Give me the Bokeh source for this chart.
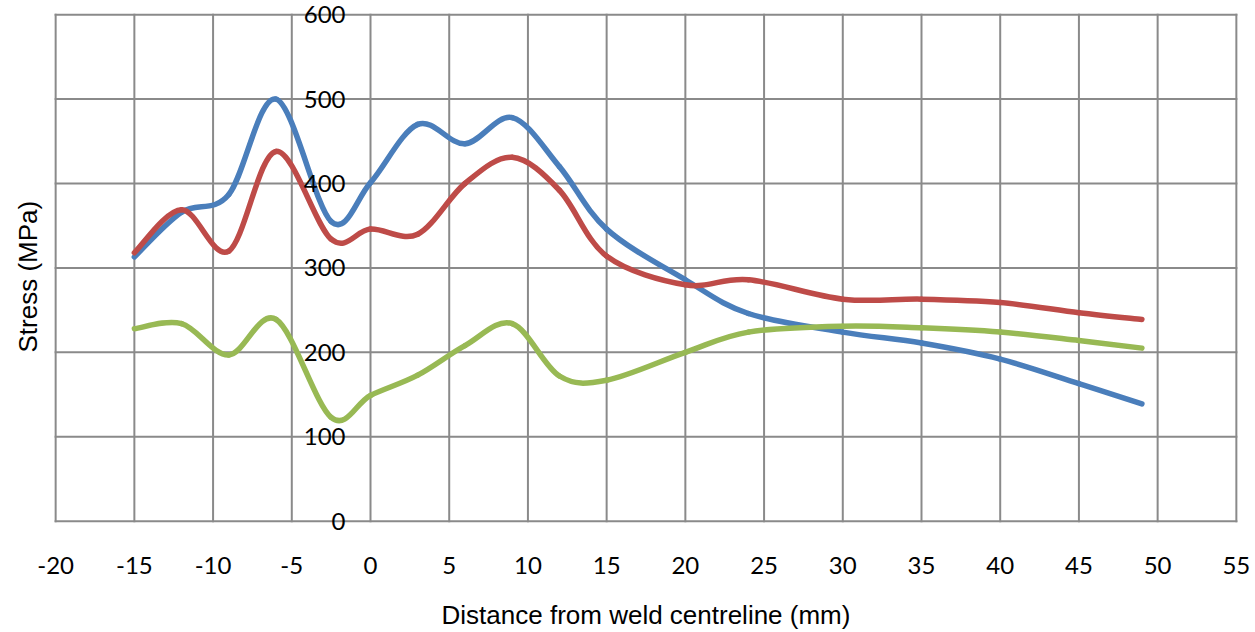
import numpy as np
from bokeh.plotting import figure
from bokeh.models import FixedTicker, ColumnDataSource, Title
from bokeh.embed import file_html
from bokeh.resources import INLINE

# ---- data ----
distance = [-15, -12, -9, -6, -2.5, 0, 3, 6, 9, 12, 15, 20, 24, 30, 35, 40, 45, 49]
stress_blue = [313, 366, 387, 500, 355, 401, 470, 447, 478, 420, 346, 286, 246, 224, 211, 192, 163, 139]
stress_red = [318, 369, 320, 438, 334, 346, 340, 400, 431, 392, 314, 280, 286, 263, 263, 259, 247, 239]
stress_green = [228, 234, 197, 239, 123, 149, 173, 208, 234, 172, 167, 200, 224, 231, 229, 224, 214, 205]

x_ticks = [-20, -15, -10, -5, 0, 5, 10, 15, 20, 25, 30, 35, 40, 45, 50, 55]
x_tick_labels = ["-20", "-15", "-10", "-5", "0", "5", "10", "15", "20", "25", "30", "35", "40", "45", "50", "55"]
y_ticks = [0, 100, 200, 300, 400, 500, 600]
y_tick_labels = ["0", "100", "200", "300", "400", "500", "600"]
x_title = "Distance from weld centreline (mm)"
y_title = "Stress (MPa)"

colors = ["#4A7EBB", "#BE4B48", "#98B954"]
GRID = "#8a8a8a"

# small padding around the 0..600 / -20..55 box so that the
# axis labels at the ends are not clipped by the frame
p = figure(width=1255, height=632, x_range=(-20.2, 55.2), y_range=(-11, 612),
           output_backend="svg", toolbar_location=None,
           min_border_left=52, min_border_right=16, min_border_top=4,
           min_border_bottom=100)
p.background_fill_color = "white"
p.border_fill_color = "white"
p.outline_line_color = None
p.grid.visible = False

# grid box drawn from the tick arrays
xmin, xmax = x_ticks[0], x_ticks[-1]
ymin, ymax = y_ticks[0], y_ticks[-1]
p.segment(x0=x_ticks, y0=[ymin] * len(x_ticks), x1=x_ticks, y1=[ymax] * len(x_ticks),
          line_color=GRID, line_width=2, line_cap="square")
p.segment(x0=[xmin] * len(y_ticks), y0=y_ticks, x1=[xmax] * len(y_ticks), y1=y_ticks,
          line_color=GRID, line_width=2, line_cap="square")


def smooth_segments(xs, ys):
    """Catmull-Rom style Bezier control points (like Excel's smoothed line)."""
    x = np.asarray(xs, dtype=float)
    y = np.asarray(ys, dtype=float)
    xp = np.concatenate([[x[0]], x, [x[-1]]])
    yp = np.concatenate([[y[0]], y, [y[-1]]])
    n = len(x)
    i = np.arange(n - 1)
    x0, y0 = x[:-1], y[:-1]
    x1, y1 = x[1:], y[1:]
    cx0 = x0 + (xp[i + 2] - xp[i]) / 6.0
    cy0 = y0 + (yp[i + 2] - yp[i]) / 6.0
    cx1 = x1 - (xp[i + 3] - xp[i + 1]) / 6.0
    cy1 = y1 - (yp[i + 3] - yp[i + 1]) / 6.0
    return dict(x0=x0, y0=y0, x1=x1, y1=y1, cx0=cx0, cy0=cy0, cx1=cx1, cy1=cy1)


for ys, c in zip([stress_blue, stress_red, stress_green], colors):
    src = ColumnDataSource(smooth_segments(distance, ys))
    p.bezier(x0="x0", y0="y0", x1="x1", y1="y1", cx0="cx0", cy0="cy0",
             cx1="cx1", cy1="cy1", source=src, line_color=c, line_width=5.5,
             line_cap="round")

# x axis
xa = p.xaxis[0]
xa.ticker = FixedTicker(ticks=x_ticks)
xa.major_label_overrides = dict(zip(x_ticks, x_tick_labels))
xa.axis_line_color = None
xa.major_tick_line_color = None
xa.minor_tick_line_color = None
xa.major_tick_out = 0
xa.major_tick_in = 0
xa.major_label_standoff = 26
xa.major_label_text_font = "Lato"
xa.major_label_text_font_size = "24px"
xa.major_label_text_color = "black"
xa.axis_label = x_title
xa.axis_label_text_font = "Liberation Sans"
xa.axis_label_text_font_size = "26px"
xa.axis_label_text_font_style = "normal"
xa.axis_label_text_color = "black"
xa.axis_label_standoff = 23

# y axis crossing at x = 0 (labels inside the plot, left of the line)
ya = p.yaxis[0]
ya.fixed_location = 0
ya.ticker = FixedTicker(ticks=y_ticks)
ya.major_label_overrides = dict(zip(y_ticks, y_tick_labels))
ya.axis_line_color = None
ya.major_tick_line_color = None
ya.minor_tick_line_color = None
ya.major_tick_out = 0
ya.major_tick_in = 0
ya.major_label_standoff = 25
ya.major_label_text_font = "Lato"
ya.major_label_text_font_size = "24px"
ya.major_label_text_color = "black"

p.add_layout(Title(text=y_title, align="left", offset=178, standoff=20,
                   text_font="Liberation Sans", text_font_size="26px",
                   text_font_style="normal", text_color="black"), "left")

open("out.html", "w").write(file_html(p, INLINE))
